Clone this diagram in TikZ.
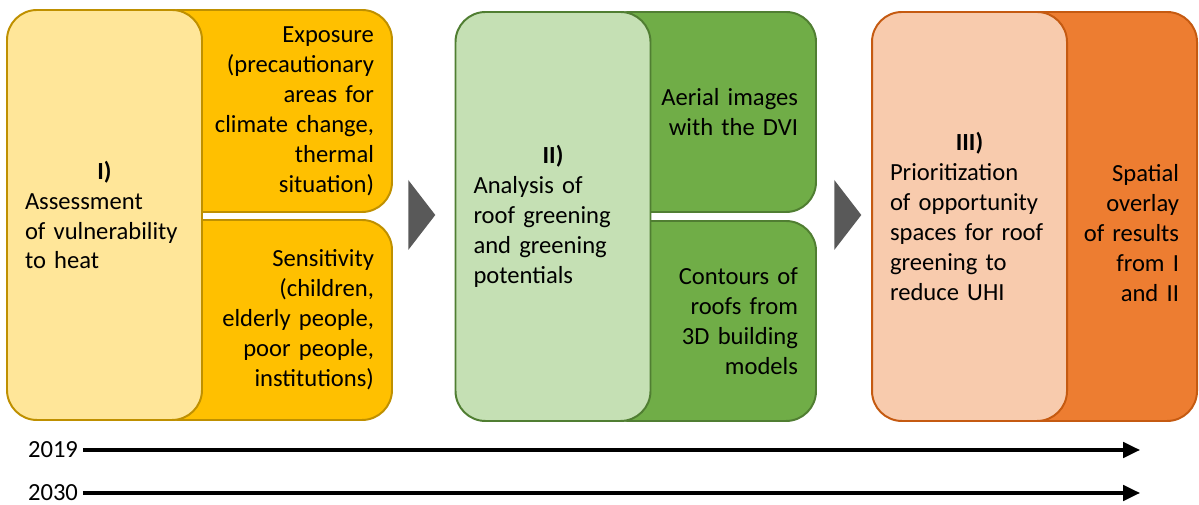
\documentclass[tikz,border=0pt]{standalone}
\usepackage{fontspec}
\setmainfont{Carlito}
\usetikzlibrary{positioning,shapes.geometric,arrows.meta}

\definecolor{goldD}{HTML}{FFC000}
\definecolor{goldL}{HTML}{FFE699}
\definecolor{goldB}{HTML}{BF9000}
\definecolor{greenD}{HTML}{70AD47}
\definecolor{greenL}{HTML}{C5E0B4}
\definecolor{greenB}{HTML}{507E32}
\definecolor{orangeD}{HTML}{ED7D31}
\definecolor{orangeL}{HTML}{F8CBAD}
\definecolor{orangeB}{HTML}{C55A11}
\definecolor{chevgray}{HTML}{595959}

\begin{document}
\begin{tikzpicture}[
  box/.style={draw, line width=1.4pt, rounded corners=0.75cm, inner sep=0pt,
    inner xsep=0.45cm, font=\fontsize{17.5}{21.3}\selectfont},
  part/.style={box, align=right},
  main/.style={box, align=left, text width=3.975cm},
  chev/.style={isosceles triangle, isosceles triangle stretches, fill=chevgray,
    inner sep=0pt, minimum width=1.75cm, minimum height=0.675cm, anchor=apex},
  year/.style={font=\fontsize{17.5}{21.3}\selectfont},
  timeline/.style={line width=2.4pt, -{Triangle[length=12pt,width=11pt]}}
]
  \useasboundingbox (0,0) rectangle (29.975,12.625);

  % I) vulnerability
  \node[part, fill=goldD, draw=goldB, text width=5.15cm, minimum height=5.05cm]
    (ex1) at (6.775,9.85) {Exposure\\(precautionary\\areas for\\climate change,\\thermal\\situation)};
  \node[part, fill=goldD, draw=goldB, text width=5.15cm, minimum height=5cm]
    (se1) at (6.775,4.625) {Sensitivity\\(children,\\elderly people,\\poor people,\\institutions)};
  \node[main, fill=goldL, draw=goldB, minimum height=10.25cm]
    (as1) at (2.6125,7.25) {{\centering\textbf{I)}\par}Assessment\\of vulnerability\\to heat};

  \node[chev] (c1) at (10.9,7.25) {};

  % II) roof greening
  \node[part, fill=greenD, draw=greenB, text width=4.5cm, minimum height=5cm]
    (ae2) at (17.7,9.825) {Aerial images\\with the DVI};
  \node[part, fill=greenD, draw=greenB, text width=4.5cm, minimum height=5cm]
    (co2) at (17.7,4.6) {Contours of\\roofs from\\3D building\\models};
  \node[main, fill=greenL, draw=greenB, minimum height=10.225cm]
    (an2) at (13.825,7.2125) {{\centering\textbf{II)}\par}Analysis of\\roof greening\\and greening\\potentials};

  \node[chev] (c2) at (21.55,7.25) {};

  % III) prioritization
  \node[part, fill=orangeD, draw=orangeB, text width=4.025cm, minimum height=10.225cm]
    (sp3) at (27.4625,7.2125) {\strut\\Spatial\\overlay\\of results\\from I\\and II};
  \node[main, fill=orangeL, draw=orangeB, minimum height=10.225cm]
    (pr3) at (24.2375,7.2125) {{\centering\textbf{III)}\par}Prioritization\\of opportunity\\spaces for roof\\greening to\\reduce UHI};

  % time lines
  \node[year] (y19) at (1.325,1.375) {2019};
  \node[year] (y30) at (1.325,0.3) {2030};
  \coordinate (e19) at (28.5,1.375);
  \coordinate (e30) at (28.5,0.3);
  \draw[timeline] (y19) -- (e19);
  \draw[timeline] (y30) -- (e30);
\end{tikzpicture}
\end{document}
